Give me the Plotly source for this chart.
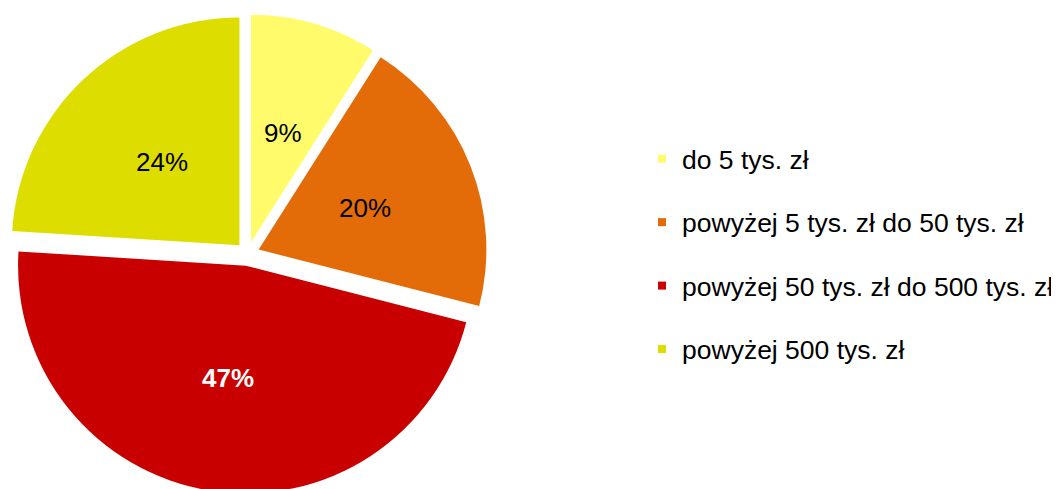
import math
import plotly.graph_objects as go

labels = ['do 5 tys. zł', 'powyżej 5 tys. zł do 50 tys. zł',
          'powyżej 50 tys. zł do 500 tys. zł', 'powyżej 500 tys. zł']
values = [9, 20, 47, 24]
colors = ['#FFFB6B', '#E36C09', '#C80000', '#DDDD00']
text_colors = ['black', 'black', 'white', 'black']
text_bold = [False, False, True, False]

W, H = 1059, 489
pull = 0.0524
dom_x = [0, 0.4525]
dom_y = [0.0045, 0.9898]

fig = go.Figure()
fig.add_trace(go.Pie(labels=labels, values=values, sort=False, direction='clockwise',
                     rotation=0, marker=dict(colors=colors),
                     pull=[pull] * len(values), textinfo='none',
                     domain=dict(x=dom_x, y=dom_y),
                     showlegend=False, hoverinfo='label+percent'))

# etykiety procentowe w polowie promienia, wzdluz dwusiecznej wycinka
box = min(W * (dom_x[1] - dom_x[0]), H * (dom_y[1] - dom_y[0]))
R = box / (2 + 2 * pull)
cx = W * (dom_x[0] + dom_x[1]) / 2
cy = H * (1 - (dom_y[0] + dom_y[1]) / 2)
total = sum(values)
cum = 0
for v, tc, b in zip(values, text_colors, text_bold):
    ang = math.radians(360 * (cum + v / 2) / total)
    cum += v
    d = R * (pull + 0.5)
    txt = f'{round(100 * v / total)}%'
    if b:
        txt = f'<b>{txt}</b>'
    fig.add_annotation(x=(cx + d * math.sin(ang)) / W, y=1 - (cy - d * math.cos(ang)) / H,
                       xref='paper', yref='paper', text=txt, showarrow=False,
                       xanchor='center', yanchor='middle',
                       font=dict(size=26, color=tc))

# legenda jako osobne grupy, zeby uzyskac duze odstepy
for name, c in zip(labels, colors):
    fig.add_trace(go.Scatter(x=[None], y=[None], mode='markers', name=name,
                             legendgroup=name,
                             marker=dict(symbol='square', size=8, color=c)))

fig.update_layout(width=W, height=H,
                  margin=dict(l=0, r=0, t=0, b=0),
                  paper_bgcolor='white', plot_bgcolor='white',
                  font=dict(family='Liberation Sans, Arial', size=20, color='black'),
                  xaxis=dict(visible=False), yaxis=dict(visible=False),
                  legend=dict(x=0.5987, xanchor='left', y=0.497, yanchor='middle',
                              tracegroupgap=26, font=dict(size=26.5)))

fig.write_html("out.html")
